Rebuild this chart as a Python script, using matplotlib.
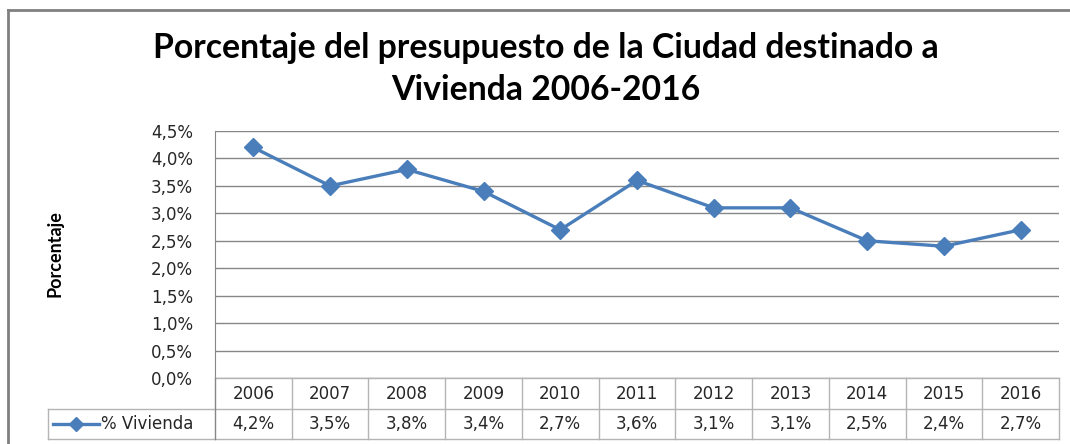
import matplotlib
matplotlib.use("Agg")
import matplotlib.pyplot as plt
from matplotlib.lines import Line2D
from matplotlib.ticker import MultipleLocator, FuncFormatter
import matplotlib.transforms as mtransforms

years = ["2006", "2007", "2008", "2009", "2010", "2011", "2012", "2013", "2014", "2015", "2016"]
vivienda = [4.2, 3.5, 3.8, 3.4, 2.7, 3.6, 3.1, 3.1, 2.5, 2.4, 2.7]
series_name = "% Vivienda"
title = "Porcentaje del presupuesto de la Ciudad destinado a\nVivienda 2006-2016"
ylabel = "Porcentaje"

W, H = 1070, 444
fig = plt.figure(figsize=(W / 100, H / 100), dpi=100)
fig.patch.set_facecolor("white")

def fx(px):
    return px / W

def fy(py):
    return 1 - py / H

left, right, top, bottom = 215, 1059, 131, 378
ax = fig.add_axes([fx(left), fy(bottom), fx(right - left), (bottom - top) / H])

line_color = "#4a7ebb"
text_color = "#262626"
x = list(range(len(years)))
ax.plot(x, vivienda, color=line_color, lw=2.4, marker="D", markersize=9.5,
        markerfacecolor=line_color, markeredgecolor=line_color, zorder=3, clip_on=False)

ax.set_xlim(-0.5, len(years) - 0.5)
ax.set_ylim(0, 4.5)
ax.yaxis.set_major_locator(MultipleLocator(0.5))
ax.yaxis.set_major_formatter(FuncFormatter(lambda v, p: f"{v:.1f}%".replace(".", ",")))
ax.set_xticks([])
ax.grid(axis="y", color="#878787", lw=1)
ax.set_axisbelow(True)
for s in ["top", "right", "bottom"]:
    ax.spines[s].set_visible(False)
ax.spines["left"].set_color("#878787")
ax.tick_params(axis="y", length=0, pad=16, labelsize=12, labelcolor=text_color)

# data table below axes
tr = mtransforms.blended_transform_factory(ax.transData, fig.transFigure)
tcolor = "#b4b4b4"
row1_top, row1_bot, row2_bot = 378, 409, 439
n = len(years)
fig.add_artist(Line2D([-0.5, n - 0.5], [fy(row1_bot)] * 2, transform=tr, color=tcolor, lw=1))
fig.add_artist(Line2D([-0.5, n - 0.5], [fy(row2_bot)] * 2, transform=tr, color=tcolor, lw=1))
fig.add_artist(Line2D([-0.5, n - 0.5], [fy(row1_top)] * 2, transform=tr, color=tcolor, lw=1))
fig.add_artist(Line2D([fx(48), fx(left)], [fy(row1_bot)] * 2, color=tcolor, lw=1))
fig.add_artist(Line2D([fx(48), fx(left)], [fy(row2_bot)] * 2, color=tcolor, lw=1))
fig.add_artist(Line2D([fx(48), fx(48)], [fy(row1_bot), fy(row2_bot)], color=tcolor, lw=1))
for i in range(n + 1):
    xb = i - 0.5
    fig.add_artist(Line2D([xb, xb], [fy(row1_top), fy(row2_bot)], transform=tr,
                          color=tcolor if i > 0 else "#878787", lw=1))
for i, (yr, v) in enumerate(zip(years, vivienda)):
    fig.text(i, fy((row1_top + row1_bot) / 2), yr, transform=tr, ha="center", va="center",
             fontsize=12, color=text_color)
    fig.text(i, fy((row1_bot + row2_bot) / 2), f"{v:.1f}%".replace(".", ","), transform=tr,
             ha="center", va="center", fontsize=12, color=text_color)
# legend key in table
ym = fy((row1_bot + row2_bot) / 2)
fig.add_artist(Line2D([fx(53), fx(99)], [ym, ym], color=line_color, lw=2.4))
fig.add_artist(Line2D([fx(76)], [ym], color=line_color, marker="D", markersize=7, lw=0))
fig.text(fx(101), ym, series_name, ha="left", va="center", fontsize=12, color=text_color)

# title
fig.text(fx(546), fy(69), title, ha="center", va="center", fontsize=24.3,
         fontweight="bold", family=["Lato", "DejaVu Sans"], linespacing=1.36, color="#000000")
# y label
fig.text(fx(55), fy(254), ylabel, rotation=90, ha="center", va="center", fontsize=13,
         fontweight="bold", family=["Lato", "DejaVu Sans"], color="#000000")

# outer frame
fig.add_artist(Line2D([fx(8), 1], [fy(10), fy(10)], color="#808080", lw=2))
fig.add_artist(Line2D([fx(8), fx(8)], [fy(10), 0], color="#808080", lw=2))

fig.savefig("out.png", dpi=100, facecolor="white")
